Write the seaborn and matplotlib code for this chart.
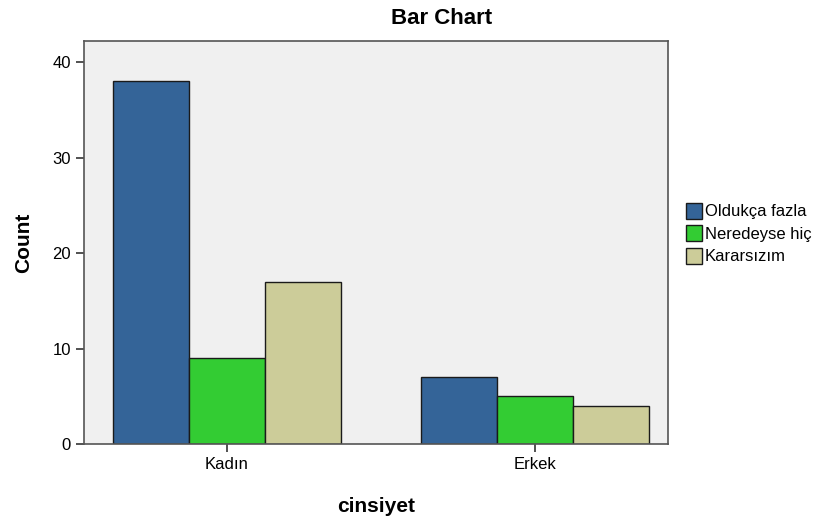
import pandas as pd
import matplotlib
matplotlib.use('Agg')
import matplotlib.pyplot as plt
import seaborn as sns
from matplotlib.patches import Patch

genders=['Kadın','Erkek']
answers=['Oldukça fazla','Neredeyse hiç','Kararsızım']
oldukca_fazla=[38,7]
neredeyse_hic=[9,5]
kararsizim=[17,4]

colors=['#346498','#33cc33','#cccc99']

def main():
    rows=[]
    for i,g in enumerate(genders):
        for a,vals in zip(answers,[oldukca_fazla,neredeyse_hic,kararsizim]):
            rows.append({'cinsiyet':g,'answer':a,'Count':vals[i]})
    df=pd.DataFrame(rows)

    sns.set_style('white')
    plt.rcParams['font.family']=['Liberation Sans','DejaVu Sans']
    plt.rcParams['text.color']='black'
    plt.rcParams['axes.labelcolor']='black'
    fig=plt.figure(figsize=(8.29,5.27),dpi=100)
    ax=fig.add_axes([84/829,1-444/527,(668-84)/829,(444-41)/527])
    ax.set_facecolor('#f0f0f0')
    sns.barplot(data=df,x='cinsiyet',y='Count',hue='answer',hue_order=answers,
                palette=colors,saturation=1,width=0.74,edgecolor='#1a1a1a',linewidth=1.0,
                ax=ax,legend=False)
    ax.set_xlim(-0.464,1.432)
    ax.set_ylim(0,42.2)
    ax.set_yticks([0,10,20,30,40])
    for s in ax.spines.values():
        s.set_color('#555555')
        s.set_linewidth(1.2)
    ax.tick_params(axis='both',direction='out',length=6,width=1.2,color='#333333',
                   labelsize=12,labelcolor='black',left=True,bottom=True)
    ax.set_xlabel('cinsiyet',fontsize=15,fontweight='bold',labelpad=18)
    ax.set_ylabel('Count',fontsize=15,fontweight='bold',labelpad=14)
    fig.text(442/829,1-18/527,'Bar Chart',fontsize=16,fontweight='bold',ha='center',va='center')

    handles=[Patch(facecolor=c,edgecolor='#1a1a1a',label=a) for c,a in zip(colors,answers)]
    fig.legend(handles=handles,loc='upper left',bbox_to_anchor=(679/829,1-196/527),
               frameon=False,fontsize=12,handlelength=1.0,handleheight=1.1,
               handletextpad=0.15,labelspacing=0.35,borderaxespad=0)
    fig.savefig('out.png',dpi=100)

if __name__ == '__main__':
    main()
